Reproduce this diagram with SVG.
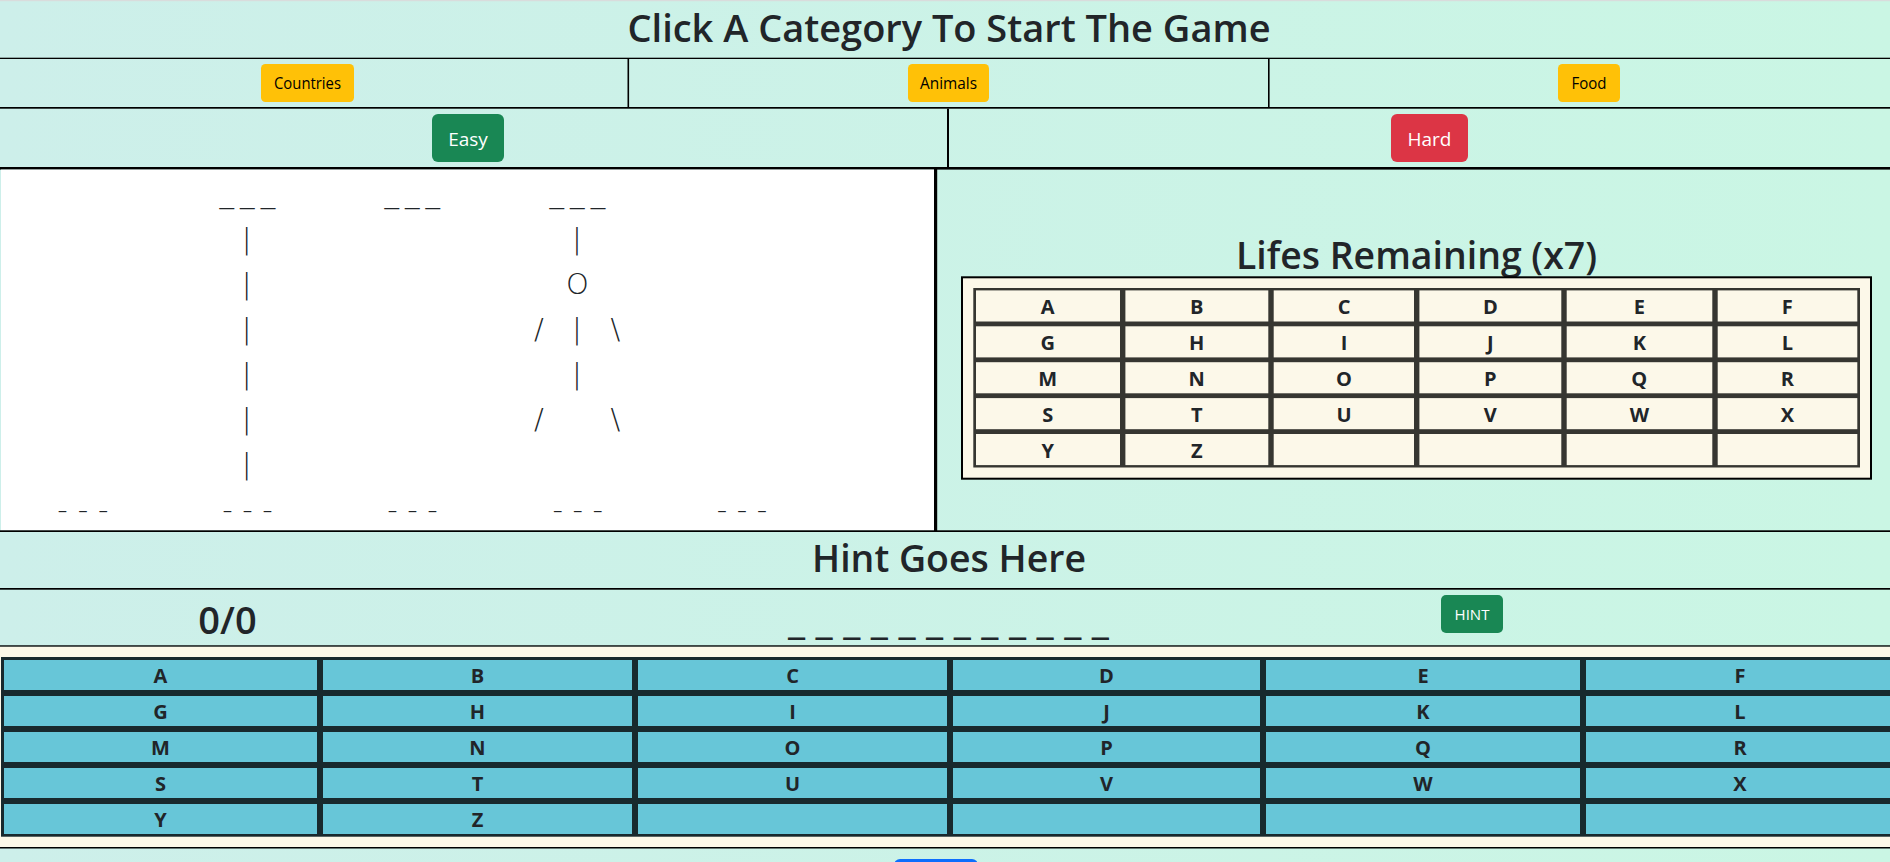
<svg xmlns="http://www.w3.org/2000/svg" width="1890" height="862" viewBox="0 0 1890 862">
<defs>
<linearGradient id="bgGrad" x1="0" y1="0" x2="1" y2="0">
<stop offset="0" stop-color="#cdefea"/>
<stop offset="1" stop-color="#caf6e4"/>
</linearGradient>
<style>
.bk{fill:#000}
.h{font-family:"Open Sans","Noto Sans",sans-serif;font-size:38px;font-weight:600;fill:#212529;text-anchor:middle}
.cat{font-family:"Open Sans","Noto Sans",sans-serif;font-size:16px;fill:#000;text-anchor:middle}
.btn{font-family:"Open Sans","Noto Sans",sans-serif;font-size:19px;fill:#fff;text-anchor:middle}
.hint{font-family:"Open Sans","Noto Sans",sans-serif;font-size:15px;fill:#fff;text-anchor:middle}
.key{font-family:"Open Sans","Noto Sans",sans-serif;font-size:20px;font-weight:700;fill:#212529;text-anchor:middle}
.hm{font-family:"DejaVu Sans",sans-serif;font-size:29px;font-weight:200;fill:#212529;text-anchor:middle}
.yel{fill:#ffc107}
.grn{fill:#198754}
.red{fill:#dc3545}
.kcell{fill:#67c6d8}
.lcell{fill:#fcf8e9}
</style>
</defs>

<!-- page background -->
<rect x="0" y="0" width="1890" height="862" fill="url(#bgGrad)"/>
<rect x="0" y="0" width="1890" height="1.2" fill="#d9dcdc"/>

<g id="title">
<text class="h" x="949" y="41.7" textLength="643" lengthAdjust="spacingAndGlyphs">Click A Category To Start The Game</text>
<rect class="bk" x="0" y="57.7" width="1890" height="1.3"/>
</g>

<g id="categories">
<rect class="bk" x="627.5" y="59" width="1.6" height="48"/>
<rect class="bk" x="1268" y="59" width="1.6" height="48"/>
<g id="btn-countries">
<rect class="yel" x="261" y="64" width="93" height="38" rx="4.5"/>
<text class="cat" x="307.5" y="89.3" textLength="67" lengthAdjust="spacingAndGlyphs">Countries</text>
</g>
<g id="btn-animals">
<rect class="yel" x="908" y="64" width="81" height="38" rx="4.5"/>
<text class="cat" x="948.5" y="89.3" textLength="57" lengthAdjust="spacingAndGlyphs">Animals</text>
</g>
<g id="btn-food">
<rect class="yel" x="1558" y="64" width="62" height="38" rx="4.5"/>
<text class="cat" x="1589" y="89.3" textLength="35" lengthAdjust="spacingAndGlyphs">Food</text>
</g>
<rect class="bk" x="0" y="107" width="1890" height="1.7"/>
</g>

<g id="difficulty">
<rect class="bk" x="947" y="108.7" width="2" height="59"/>
<g id="btn-easy">
<rect class="grn" x="432" y="114" width="72" height="48" rx="6"/>
<text class="btn" x="468" y="145.7">Easy</text>
</g>
<g id="btn-hard">
<rect class="red" x="1391" y="114" width="77" height="48" rx="6"/>
<text class="btn" x="1429.5" y="145.7">Hard</text>
</g>
<rect class="bk" x="0" y="167" width="1890" height="2.6"/>
</g>

<g id="hangman">
<rect x="1" y="169.6" width="933" height="361" fill="#fff"/>
<rect class="bk" x="934" y="169" width="3.2" height="362"/>
<text class="hm" x="226.7 237 247.3 257.6 268" y="201.5">_ _ _</text>
<text class="hm" x="391.7 402 412.3 422.5 432.8" y="201.5">_ _ _</text>
<text class="hm" x="556.7 567 577.3 587.6 598" y="201.5">_ _ _</text>
<text class="hm" x="246.7" y="249">|</text>
<text class="hm" x="246.7" y="294">|</text>
<text class="hm" x="246.7" y="339">|</text>
<text class="hm" x="246.7" y="384">|</text>
<text class="hm" x="246.7" y="429">|</text>
<text class="hm" x="246.7" y="474">|</text>
<text class="hm" x="577" y="249">|</text>
<text class="hm" x="577.3" y="293.6">O</text>
<text class="hm" x="539 558 577 596 615.5" y="339">/ | \</text>
<text class="hm" x="577" y="384">|</text>
<text class="hm" x="539 577 615.5" y="429">/ \</text>
<text class="hm" x="62.5 72.8 83 93.1 103.2" y="518.5">- - -</text>
<text class="hm" x="227.5 237.5 247.5 257.5 267.5" y="518.5">- - -</text>
<text class="hm" x="392.5 402.5 412.5 422.5 432.5" y="518.5">- - -</text>
<text class="hm" x="557.8 567.8 577.8 587.8 597.8" y="518.5">- - -</text>
<text class="hm" x="722 732 742 752 762" y="518.5">- - -</text>
</g>

<g id="lives">
<text class="h" x="1416.5" y="269.3" textLength="361" lengthAdjust="spacingAndGlyphs">Lifes Remaining (x7)</text>
<rect x="962" y="277.3" width="909" height="201.4" fill="#fcf8e9" stroke="#000" stroke-width="2"/>
<rect x="973.3" y="288" width="886.7" height="179.5" fill="#363631"/>
<g id="lives-cells">
<rect class="lcell" x="976" y="290.4" width="144" height="31.1"/><rect class="lcell" x="1125.4" y="290.4" width="142.9" height="31.1"/><rect class="lcell" x="1273.7" y="290.4" width="140.3" height="31.1"/><rect class="lcell" x="1419.4" y="290.4" width="141.9" height="31.1"/><rect class="lcell" x="1566.7" y="290.4" width="145.6" height="31.1"/><rect class="lcell" x="1717.7" y="290.4" width="139.6" height="31.1"/>
<rect class="lcell" x="976" y="326.3" width="144" height="31.1"/><rect class="lcell" x="1125.4" y="326.3" width="142.9" height="31.1"/><rect class="lcell" x="1273.7" y="326.3" width="140.3" height="31.1"/><rect class="lcell" x="1419.4" y="326.3" width="141.9" height="31.1"/><rect class="lcell" x="1566.7" y="326.3" width="145.6" height="31.1"/><rect class="lcell" x="1717.7" y="326.3" width="139.6" height="31.1"/>
<rect class="lcell" x="976" y="362.2" width="144" height="31.1"/><rect class="lcell" x="1125.4" y="362.2" width="142.9" height="31.1"/><rect class="lcell" x="1273.7" y="362.2" width="140.3" height="31.1"/><rect class="lcell" x="1419.4" y="362.2" width="141.9" height="31.1"/><rect class="lcell" x="1566.7" y="362.2" width="145.6" height="31.1"/><rect class="lcell" x="1717.7" y="362.2" width="139.6" height="31.1"/>
<rect class="lcell" x="976" y="398.1" width="144" height="31.1"/><rect class="lcell" x="1125.4" y="398.1" width="142.9" height="31.1"/><rect class="lcell" x="1273.7" y="398.1" width="140.3" height="31.1"/><rect class="lcell" x="1419.4" y="398.1" width="141.9" height="31.1"/><rect class="lcell" x="1566.7" y="398.1" width="145.6" height="31.1"/><rect class="lcell" x="1717.7" y="398.1" width="139.6" height="31.1"/>
<rect class="lcell" x="976" y="434" width="144" height="31.1"/><rect class="lcell" x="1125.4" y="434" width="142.9" height="31.1"/><rect class="lcell" x="1273.7" y="434" width="140.3" height="31.1"/><rect class="lcell" x="1419.4" y="434" width="141.9" height="31.1"/><rect class="lcell" x="1566.7" y="434" width="145.6" height="31.1"/><rect class="lcell" x="1717.7" y="434" width="139.6" height="31.1"/>
</g>
<g id="lives-letters">
<text class="key" x="1047.7" y="314">A</text><text class="key" x="1196.7" y="314">B</text><text class="key" x="1344" y="314">C</text><text class="key" x="1490.3" y="314">D</text><text class="key" x="1639.3" y="314">E</text><text class="key" x="1787.3" y="314">F</text>
<text class="key" x="1047.7" y="349.9">G</text><text class="key" x="1196.7" y="349.9">H</text><text class="key" x="1344" y="349.9">I</text><text class="key" x="1490.3" y="349.9">J</text><text class="key" x="1639.3" y="349.9">K</text><text class="key" x="1787.3" y="349.9">L</text>
<text class="key" x="1047.7" y="385.8">M</text><text class="key" x="1196.7" y="385.8">N</text><text class="key" x="1344" y="385.8">O</text><text class="key" x="1490.3" y="385.8">P</text><text class="key" x="1639.3" y="385.8">Q</text><text class="key" x="1787.3" y="385.8">R</text>
<text class="key" x="1047.7" y="421.7">S</text><text class="key" x="1196.7" y="421.7">T</text><text class="key" x="1344" y="421.7">U</text><text class="key" x="1490.3" y="421.7">V</text><text class="key" x="1639.3" y="421.7">W</text><text class="key" x="1787.3" y="421.7">X</text>
<text class="key" x="1047.7" y="457.6">Y</text><text class="key" x="1196.7" y="457.6">Z</text>
</g>
</g>

<g id="hint-row">
<rect class="bk" x="0" y="530.3" width="1890" height="1.7"/>
<text class="h" x="949" y="571.7" textLength="274" lengthAdjust="spacingAndGlyphs">Hint Goes Here</text>
<rect class="bk" x="0" y="588" width="1890" height="1.7"/>
</g>

<g id="score-row">
<text class="h" x="227.5" y="634">0/0</text>
<text class="h" x="948.5" y="634" textLength="321" lengthAdjust="spacingAndGlyphs">_ _ _ _ _ _ _ _ _ _ _ _</text>
<g id="btn-hint">
<rect class="grn" x="1441" y="595" width="62" height="38" rx="5"/>
<text class="hint" x="1472" y="620">HINT</text>
</g>
<rect class="bk" x="0" y="645.3" width="1890" height="1.5"/>
</g>

<g id="keyboard">
<rect x="0" y="646.8" width="1890" height="200.2" fill="#fcf8e8"/>
<rect x="1" y="657" width="1896" height="179.7" fill="#18292d"/>
<g id="key-cells">
<rect class="kcell" x="4" y="660" width="313" height="30"/><rect class="kcell" x="323" y="660" width="309" height="30"/><rect class="kcell" x="638" y="660" width="309" height="30"/><rect class="kcell" x="953" y="660" width="307" height="30"/><rect class="kcell" x="1266" y="660" width="314" height="30"/><rect class="kcell" x="1586" y="660" width="308" height="30"/>
<rect class="kcell" x="4" y="696" width="313" height="30"/><rect class="kcell" x="323" y="696" width="309" height="30"/><rect class="kcell" x="638" y="696" width="309" height="30"/><rect class="kcell" x="953" y="696" width="307" height="30"/><rect class="kcell" x="1266" y="696" width="314" height="30"/><rect class="kcell" x="1586" y="696" width="308" height="30"/>
<rect class="kcell" x="4" y="732" width="313" height="30"/><rect class="kcell" x="323" y="732" width="309" height="30"/><rect class="kcell" x="638" y="732" width="309" height="30"/><rect class="kcell" x="953" y="732" width="307" height="30"/><rect class="kcell" x="1266" y="732" width="314" height="30"/><rect class="kcell" x="1586" y="732" width="308" height="30"/>
<rect class="kcell" x="4" y="768" width="313" height="30"/><rect class="kcell" x="323" y="768" width="309" height="30"/><rect class="kcell" x="638" y="768" width="309" height="30"/><rect class="kcell" x="953" y="768" width="307" height="30"/><rect class="kcell" x="1266" y="768" width="314" height="30"/><rect class="kcell" x="1586" y="768" width="308" height="30"/>
<rect class="kcell" x="4" y="804" width="313" height="30"/><rect class="kcell" x="323" y="804" width="309" height="30"/><rect class="kcell" x="638" y="804" width="309" height="30"/><rect class="kcell" x="953" y="804" width="307" height="30"/><rect class="kcell" x="1266" y="804" width="314" height="30"/><rect class="kcell" x="1586" y="804" width="308" height="30"/>
</g>
<g id="key-letters">
<text class="key" x="160.5" y="683">A</text><text class="key" x="477.5" y="683">B</text><text class="key" x="792.5" y="683">C</text><text class="key" x="1106.5" y="683">D</text><text class="key" x="1423" y="683">E</text><text class="key" x="1740" y="683">F</text>
<text class="key" x="160.5" y="719">G</text><text class="key" x="477.5" y="719">H</text><text class="key" x="792.5" y="719">I</text><text class="key" x="1106.5" y="719">J</text><text class="key" x="1423" y="719">K</text><text class="key" x="1740" y="719">L</text>
<text class="key" x="160.5" y="755">M</text><text class="key" x="477.5" y="755">N</text><text class="key" x="792.5" y="755">O</text><text class="key" x="1106.5" y="755">P</text><text class="key" x="1423" y="755">Q</text><text class="key" x="1740" y="755">R</text>
<text class="key" x="160.5" y="791">S</text><text class="key" x="477.5" y="791">T</text><text class="key" x="792.5" y="791">U</text><text class="key" x="1106.5" y="791">V</text><text class="key" x="1423" y="791">W</text><text class="key" x="1740" y="791">X</text>
<text class="key" x="160.5" y="827">Y</text><text class="key" x="477.5" y="827">Z</text>
</g>
<rect class="bk" x="0" y="847" width="1890" height="1.5"/>
</g>

<g id="bottom-button">
<rect x="894" y="859" width="84" height="20" rx="6" fill="#0d6efd"/>
</g>

<g id="connectors"/>
</svg>
